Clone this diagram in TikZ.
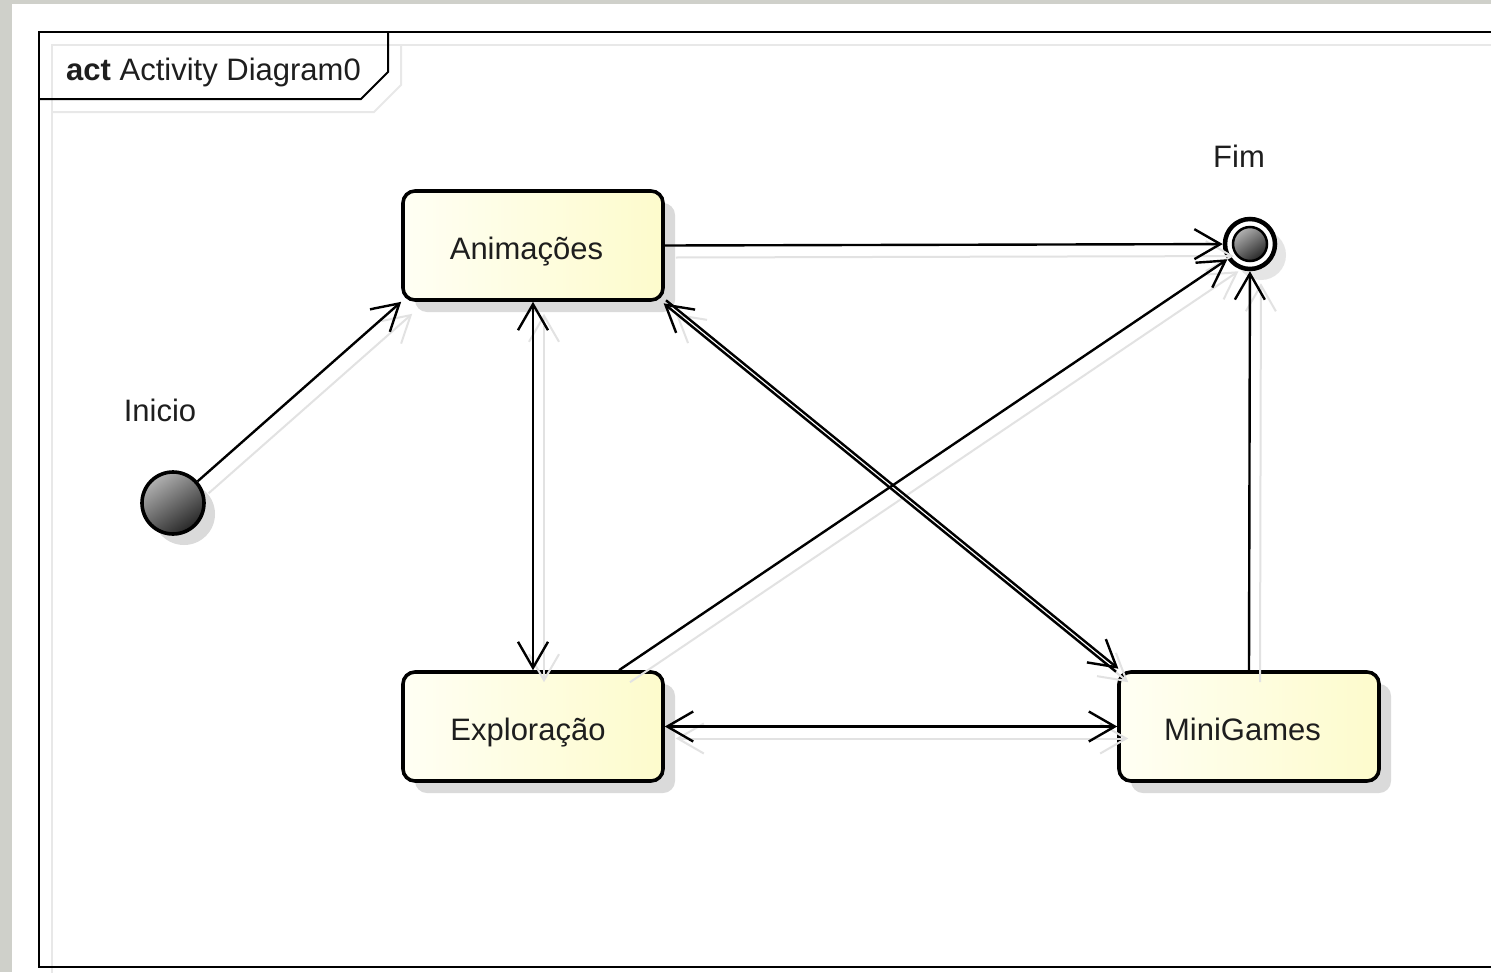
\documentclass[tikz,border=0pt]{standalone}
\usepackage{fontspec}
\setmainfont{Liberation Sans}
\usetikzlibrary{arrows.meta,calc,shadows}

\definecolor{pagegrey}{RGB}{207,208,202}
\definecolor{actleft}{RGB}{255,255,244}
\definecolor{actright}{RGB}{253,251,204}
\definecolor{shadowgrey}{RGB}{218,218,218}
\definecolor{edgeshade}{RGB}{226,226,226}
\definecolor{inktext}{RGB}{30,30,30}

\begin{document}
\begin{tikzpicture}[x=1pt,y=-1pt,
  txt/.style={font=\fontsize{31}{37}\selectfont, text=inktext, inner sep=0pt},
  framepen/.style={line width=2pt, draw=black},
  frameshade/.style={line width=2pt, draw=black!9},
  activity/.style={txt, draw=black, line width=3.6pt, rounded corners=12pt,
    minimum width=260pt, minimum height=109pt, text height=32pt, text depth=5pt,
    left color=actleft, right color=actright,
    drop shadow={shadow xshift=12pt, shadow yshift=-12pt, fill=shadowgrey, opacity=1}},
  tipV/.tip={Straight Barb[length=26pt, width=30pt]},
  flow/.style={line width=2.4pt, draw=black, -tipV},
  flowboth/.style={line width=2.4pt, draw=black, tipV-tipV},
  flowshade/.style={line width=2pt, draw=edgeshade, -tipV},
  flowshadeboth/.style={line width=2pt, draw=edgeshade, tipV-tipV},
]
\useasboundingbox (0,0) rectangle (1491,972);

% page backdrop and white canvas
\fill[pagegrey] (0,0) rectangle (1491,972);
\fill[white] (12,4) rectangle (1491,972);

% diagram frame with its soft shadow
\draw[frameshade] (52,112) -- (374,112) -- (401,85) -- (401,45);
\draw[frameshade] (52,980) -- (52,45) -- (1500,45);
\draw[framepen] (1500,32) -- (39,32) -- (39,967) -- (1500,967);
\draw[framepen] (39,99) -- (361,99) -- (388,72) -- (388,32);
\node[txt, anchor=base west] (frametitle) at (66,80) {\textbf{act} Activity Diagram0};

% activities (label set a little left of the box centre)
\node[activity] (anim) at (533,245.5) {Animações\hspace*{13pt}};
\node[activity] (expl) at (533,726.5) {Exploração\hspace*{10pt}};
\node[activity] (mini) at (1249,726.5) {MiniGames\hspace*{13pt}};

% initial node
\node[circle, draw=black, line width=3.6pt, minimum size=62pt, inner sep=0pt,
  top color=black!30, bottom color=black!85, shading angle=35,
  drop shadow={shadow xshift=11pt, shadow yshift=-11pt, fill=shadowgrey, opacity=1}]
  (ini) at (173,503) {};
\node[txt] (inilabel) at (160,410) {Inicio};

% final node
\node[circle, draw=black, line width=4.5pt, minimum size=50pt, inner sep=0pt, fill=white,
  drop shadow={shadow xshift=11pt, shadow yshift=-11pt, fill=black!10, opacity=1}]
  (fim) at (1250,244) {};
\node[circle, draw=black, line width=2.5pt, minimum size=34pt, inner sep=0pt,
  top color=black!30, bottom color=black!85, shading angle=35] (fimcore) at (fim) {};
\node[txt] (fimlabel) at (1239,156) {Fim};

% connector shadows
\begin{scope}[transform canvas={shift={(11,12)}}]
  \draw[flowshade] (ini) -- (anim.south west);
  \draw[flowshade] (anim.east) -- (fim);
  \draw[flowshadeboth] (anim.south) -- (expl.north);
  \draw[flowshade] ([xshift=86pt]expl.north) -- (fim);
  \draw[flowshade] (mini.north) -- (fim);
  \draw[flowshadeboth] (expl.east) -- (mini.west);
  \draw[flowshadeboth] (anim.south east) -- (mini.north west);
\end{scope}

% connectors
\draw[flow] (ini) -- (anim.south west);
\draw[flow] (anim.east) -- (fim);
\draw[flowboth] (anim.south) -- (expl.north);
\draw[flow] ([xshift=86pt]expl.north) -- (fim);
\draw[flow] (mini.north) -- (fim);
\draw[flowboth] (expl.east) -- (mini.west);
\draw[flow] ([shift={(1.2,-1.5)}]anim.south east) -- ([shift={(1.2,-1.5)}]mini.north west);
\draw[flow] ([shift={(-1.2,1.5)}]mini.north west) -- ([shift={(-1.2,1.5)}]anim.south east);
\end{tikzpicture}
\end{document}
